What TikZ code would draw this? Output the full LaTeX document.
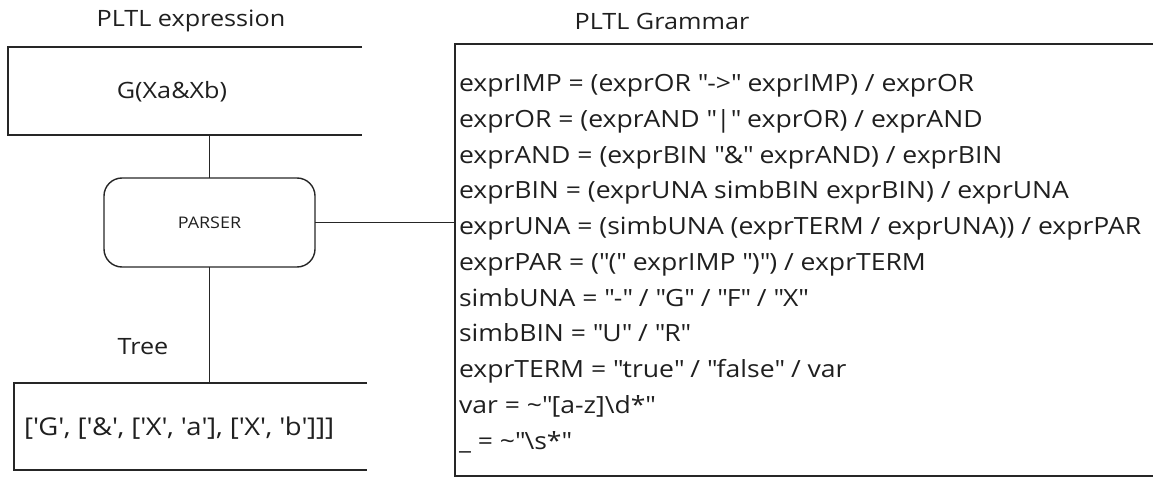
\documentclass[tikz,border=0pt]{standalone}
\usepackage{fontspec}
\newfontfamily\uifont{Open Sans}[FakeStretch=1.12]
\newcommand{\sq}{\textquotesingle}
\newcommand{\dq}{\textquotedbl}
\begin{document}
\begin{tikzpicture}[x=1pt,y=-1pt,
  every node/.style={inner sep=0pt, outer sep=0pt, text=black!88},
  frame/.style={draw=black!85, line width=1.4pt},
  link/.style={draw=black!85, line width=1.4pt},
  label/.style={font=\uifont\fontsize{22.5}{27}\selectfont},
  gline/.style={anchor=mid west, font=\uifont\fontsize{23.7}{30}\selectfont}]
\useasboundingbox (0,0) rectangle (1153,478);

% titles
\node[label] (t1) at (191,21) {PLTL expression};
\node[label] (t2) at (662,21) {PLTL Grammar};

% input store (open on the right)
\node[minimum width=354pt, minimum height=88pt] (expr) at (185,91) {};
\draw[frame] (expr.north east) -- (expr.north west) -- (expr.south west) -- (expr.south east);
\node[label] (exprtext) at (172,92) {G(Xa\&Xb)};

% parser
\node[frame, rounded corners=18pt, minimum width=211pt, minimum height=89pt,
      font=\uifont\fontsize{16}{19}\selectfont] (parser) at (209.5,222.5) {PARSER};

% output store (open on the right)
\node[minimum width=353pt, minimum height=87pt] (tree) at (190.5,426.5) {};
\draw[frame] (tree.north east) -- (tree.north west) -- (tree.south west) -- (tree.south east);
\node[anchor=mid west, font=\uifont\fontsize{24.5}{29}\selectfont] (treetext) at (24,433)
  {[\sq G\sq, [\sq\&\sq, [\sq X\sq, \sq a\sq], [\sq X\sq, \sq b\sq]]]};

% grammar box, its right side runs past the page edge
\node[minimum width=710pt, minimum height=432pt] (gram) at (810,260) {};
\draw[frame] (gram.north east) -- (gram.north west) -- (gram.south west) -- (gram.south east);

\node[gline] (g1)  at (459,89)  {exprIMP = (exprOR \dq->\dq\ exprIMP) / exprOR};
\node[gline] (g2)  at (459,125) {exprOR = (exprAND \dq\textbar\dq\ exprOR) / exprAND};
\node[gline] (g3)  at (459,161) {exprAND = (exprBIN \dq\&\dq\ exprAND) / exprBIN};
\node[gline] (g4)  at (459,196) {exprBIN = (exprUNA simbBIN exprBIN) / exprUNA};
\node[gline] (g5)  at (459,232) {exprUNA = (simbUNA (exprTERM / exprUNA)) / exprPAR};
\node[gline] (g6)  at (459,268) {exprPAR = (\dq(\dq\ exprIMP \dq)\dq) / exprTERM};
\node[gline] (g7)  at (459,304) {simbUNA = \dq-\dq\ / \dq G\dq\ / \dq F\dq\ / \dq X\dq};
\node[gline] (g8)  at (459,339) {simbBIN = \dq U\dq\ / \dq R\dq};
\node[gline] (g9)  at (459,375) {exprTERM = \dq true\dq\ / \dq false\dq\ / var};
\node[gline] (g10) at (459,411) {var = \textasciitilde\dq[a-z]\textbackslash d*\dq};
\node[gline] (g11) at (459,447) {\_ = \textasciitilde\dq\textbackslash s*\dq};

% connectors
\draw[link] (parser.north) -- (parser.north |- expr.south);
\draw[link] (parser.south) -- (parser.south |- tree.north);
\draw[link] (parser.east) -- (parser.east -| gram.west);
\node[label] (treelabel) at (143,347) {Tree};
\end{tikzpicture}
\end{document}
